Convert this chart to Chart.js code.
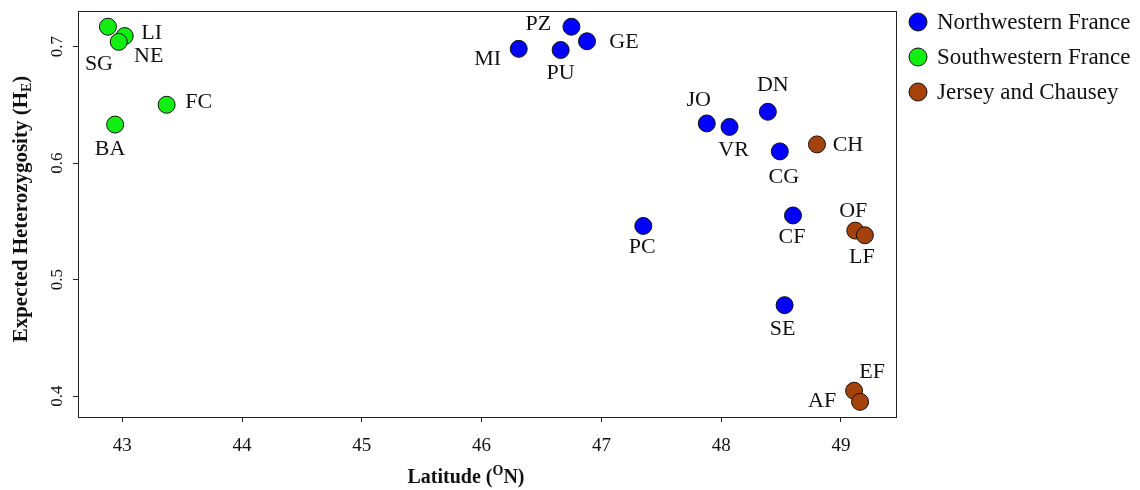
<!DOCTYPE html>
<html>
<head>
<meta charset="utf-8">
<title>Expected heterozygosity vs latitude</title>
<script src="https://cdn.jsdelivr.net/npm/chart.js@4.4.1/dist/chart.umd.min.js"></script>
<style>
  html, body { margin: 0; padding: 0; background: #fff; }
  #wrap { width: 1140px; height: 490px; }
</style>
</head>
<body>
<div id="wrap"><canvas id="chart" width="1140" height="490" role="img" aria-label="Expected heterozygosity against latitude"></canvas></div>
<script>
// данные
const groups = ['Northwestern France', 'Southwestern France', 'Jersey and Chausey'];

const nwSites = ['MI', 'PZ', 'PU', 'GE', 'JO', 'VR', 'DN', 'CG', 'PC', 'CF', 'SE'];
const nwLat = [46.31, 46.75, 46.66, 46.88, 47.88, 48.07, 48.39, 48.49, 47.35, 48.60, 48.53];
const nwHe = [0.698, 0.717, 0.697, 0.7045, 0.634, 0.631, 0.644, 0.610, 0.546, 0.555, 0.478];

const swSites = ['SG', 'LI', 'NE', 'FC', 'BA'];
const swLat = [42.88, 43.02, 42.97, 43.37, 42.94];
const swHe = [0.717, 0.709, 0.704, 0.650, 0.633];

const jcSites = ['CH', 'OF', 'LF', 'EF', 'AF'];
const jcLat = [48.80, 49.12, 49.20, 49.11, 49.16];
const jcHe = [0.616, 0.542, 0.538, 0.4045, 0.395];

const xTicks = [43, 44, 45, 46, 47, 48, 49];
const yTicks = [0.4, 0.5, 0.6, 0.7];

// раскладка подписей точек (смещение от центра точки, px)
const labelOffset = {
  SG: [-9, 37], LI: [27, -3], NE: [30, 14], FC: [32, -3], BA: [-5, 25],
  MI: [-31, 10], PZ: [-33, -3], PU: [0, 23], GE: [37, 1], JO: [-8, -23],
  VR: [4, 23], DN: [5, -27], CG: [4, 26], PC: [-1, 21], CF: [-1, 22], SE: [-2, 24],
  CH: [31, 1], OF: [-2, -19], LF: [-3, 22], EF: [18, -19], AF: [-38, -1]
};

const colors = ['#0000ff', '#11ee11', '#a5420b'];
const SERIF = '"Liberation Serif", "DejaVu Serif", serif';
const INK = '#222';

const toPoints = (lat, he) => lat.map((v, i) => ({ x: v, y: he[i] }));
const siteLists = [nwSites, swSites, jcSites];

// текст с нижним/верхним индексом: куски [текст, 'sub'|'sup'|null]
function drawRich(ctx, parts, size, weight) {
  ctx.textAlign = 'left';
  const widths = parts.map(([t, k]) => {
    ctx.font = `${weight} ${k ? Math.round(size * 0.68) : size}px ${SERIF}`;
    return ctx.measureText(t).width;
  });
  const total = widths.reduce((a, b) => a + b, 0);
  let x = -total / 2;
  parts.forEach(([t, k], i) => {
    ctx.font = `${weight} ${k ? Math.round(size * 0.68) : size}px ${SERIF}`;
    const dy = k === 'sub' ? size * 0.28 : k === 'sup' ? -size * 0.32 : 0;
    ctx.fillText(t, x, dy);
    x += widths[i];
  });
}

const decorPlugin = {
  id: 'decor',
  afterDatasetsDraw(chart) {
    const { ctx, chartArea: a, scales } = chart;
    ctx.save();

    // рамка вокруг области построения
    ctx.strokeStyle = INK;
    ctx.lineWidth = 1;
    ctx.strokeRect(Math.round(a.left) + 0.5, Math.round(a.top) + 0.5,
      Math.round(a.right - a.left), Math.round(a.bottom - a.top));

    // подписи точек
    ctx.fillStyle = '#111';
    ctx.font = `22px ${SERIF}`;
    ctx.textAlign = 'center';
    ctx.textBaseline = 'middle';
    chart.data.datasets.forEach((ds, di) => {
      const meta = chart.getDatasetMeta(di);
      meta.data.forEach((pt, i) => {
        const name = siteLists[di][i];
        const off = labelOffset[name] || [0, 0];
        ctx.fillText(name, pt.x + off[0], pt.y + off[1]);
      });
    });

    // подписи делений оси Y (повернуты)
    ctx.font = `17px ${SERIF}`;
    yTicks.forEach(v => {
      const y = scales.y.getPixelForValue(v);
      ctx.save();
      ctx.translate(a.left - 20, y);
      ctx.rotate(-Math.PI / 2);
      ctx.fillText(String(v), 0, 0);
      ctx.restore();
    });

    // заголовки осей
    ctx.fillStyle = '#111';
    ctx.save();
    ctx.translate(466, 478);
    drawRich(ctx, [['Latitude (', null], ['O', 'sup'], ['N)', null]], 20, 'bold');
    ctx.restore();

    ctx.save();
    ctx.translate(22, 209);
    ctx.rotate(-Math.PI / 2);
    drawRich(ctx, [['Expected Heterozygosity (H', null], ['E', 'sub'], [')', null]], 21, 'bold');
    ctx.restore();

    // легенда
    ctx.textAlign = 'left';
    ctx.font = `23px ${SERIF}`;
    groups.forEach((g, i) => {
      const y = 22 + i * 35;
      ctx.beginPath();
      ctx.arc(918, y, 9, 0, Math.PI * 2);
      ctx.fillStyle = colors[i];
      ctx.fill();
      ctx.strokeStyle = '#111';
      ctx.lineWidth = 1;
      ctx.stroke();
      ctx.fillStyle = '#111';
      ctx.fillText(g, 937, y + 1);
    });

    ctx.restore();
  }
};

const axisGrid = {
  display: true,
  drawOnChartArea: false,
  drawTicks: true,
  tickLength: 5,
  color: INK
};

new Chart(document.getElementById('chart').getContext('2d'), {
  type: 'scatter',
  data: {
    datasets: [
      { label: groups[0], data: toPoints(nwLat, nwHe) },
      { label: groups[1], data: toPoints(swLat, swHe) },
      { label: groups[2], data: toPoints(jcLat, jcHe) }
    ].map((ds, i) => ({
      ...ds,
      backgroundColor: colors[i],
      borderColor: '#111',
      borderWidth: 1,
      pointRadius: 8.5,
      pointHoverRadius: 8.5
    }))
  },
  options: {
    responsive: false,
    animation: false,
    events: [],
    layout: { padding: { top: 11, right: 244, left: 0, bottom: 0 } },
    plugins: {
      legend: { display: false },
      tooltip: { enabled: false }
    },
    scales: {
      x: {
        type: 'linear',
        min: 42.63,
        max: 49.46,
        afterBuildTicks: s => { s.ticks = xTicks.map(v => ({ value: v })); },
        afterFit: s => { s.height = 73; },
        grid: axisGrid,
        border: { display: true, color: INK, width: 1 },
        ticks: {
          color: '#111',
          padding: 13,
          maxRotation: 0,
          font: { family: SERIF, size: 19 },
          callback: v => String(v)
        }
      },
      y: {
        type: 'linear',
        min: 0.382,
        max: 0.7305,
        afterBuildTicks: s => { s.ticks = yTicks.map(v => ({ value: v })); },
        afterFit: s => { s.width = 78; },
        grid: axisGrid,
        border: { display: true, color: INK, width: 1 },
        ticks: { display: false }
      }
    }
  },
  plugins: [decorPlugin]
});
</script>
</body>
</html>
